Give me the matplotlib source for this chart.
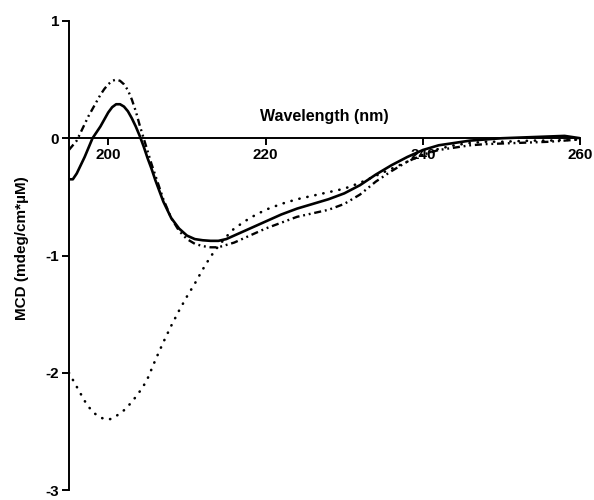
import matplotlib.pyplot as plt

# MCD spectra
wavelength = [195, 195.5, 196, 196.5, 197, 197.5, 198, 198.5, 199, 199.5, 200, 200.5,
              201, 201.5, 202, 202.5, 203, 203.5, 204, 204.5, 205, 205.5, 206,
              207, 208, 209, 210, 211, 212, 213, 214, 215, 216, 218, 220, 222, 224,
              226, 228, 230, 232, 234, 236, 238, 240, 242, 244, 246, 248, 250, 252,
              254, 256, 258, 260]

mcd_solid = [-0.35, -0.35, -0.30, -0.23, -0.16, -0.08, 0.00, 0.05, 0.10, 0.16, 0.22,
             0.265, 0.29, 0.29, 0.27, 0.23, 0.17, 0.10, 0.02, -0.07, -0.17, -0.26,
             -0.36, -0.54, -0.68, -0.77, -0.83, -0.86, -0.87, -0.875, -0.875, -0.86,
             -0.83, -0.77, -0.71, -0.65, -0.60, -0.56, -0.52, -0.47, -0.40, -0.31,
             -0.23, -0.16, -0.10, -0.06, -0.04, -0.02, -0.01, 0.0, 0.005, 0.01, 0.015,
             0.02, 0.0]

mcd_dashdot = [-0.10, -0.06, -0.02, 0.05, 0.12, 0.19, 0.25, 0.31, 0.37, 0.42, 0.46,
               0.49, 0.50, 0.49, 0.46, 0.41, 0.33, 0.23, 0.11, 0.00, -0.11, -0.22,
               -0.32, -0.52, -0.68, -0.79, -0.86, -0.90, -0.92, -0.93, -0.93, -0.91,
               -0.89, -0.83, -0.77, -0.72, -0.67, -0.64, -0.61, -0.56, -0.48, -0.37,
               -0.28, -0.20, -0.14, -0.10, -0.08, -0.06, -0.05, -0.045, -0.04, -0.035,
               -0.03, -0.02, -0.01]

mcd_dotted = [-2.00, -2.06, -2.12, -2.18, -2.24, -2.29, -2.33, -2.36, -2.38, -2.395,
              -2.40, -2.39, -2.37, -2.345, -2.32, -2.285, -2.25, -2.205, -2.16, -2.11,
              -2.05, -1.97, -1.89, -1.74, -1.60, -1.47, -1.35, -1.24, -1.12, -1.01,
              -0.92, -0.84, -0.77, -0.68, -0.61, -0.56, -0.52, -0.49, -0.46, -0.43,
              -0.38, -0.32, -0.26, -0.20, -0.14, -0.09, -0.06, -0.04, -0.03, -0.03,
              -0.025, -0.02, -0.02, -0.015, -0.01]

plt.rcParams['font.family'] = 'Liberation Sans'
plt.rcParams['font.weight'] = 'bold'
plt.rcParams['axes.unicode_minus'] = False

fig = plt.figure(figsize=(5.94, 5.00), dpi=100)
ax = fig.add_axes([0.116, 0.02, 0.861, 0.938])

ax.plot(wavelength, mcd_solid, color='black', linewidth=1.9)
ax.plot(wavelength, mcd_dashdot, color='black', linewidth=1.7,
        linestyle=(0, (3, 1.6, 0.8, 1.6, 0.8, 1.6)))
ax.plot(wavelength, mcd_dotted, color='black', linewidth=1.9,
        linestyle=(0, (0.1, 3.0)), dash_capstyle='round')

ax.set_xlim(195, 260)
ax.set_ylim(-3, 1)
ax.set_xticks([200, 220, 240, 260])
ax.set_yticks([-3, -2, -1, 0, 1])

# x axis runs through y = 0, top/right frame removed
ax.spines['bottom'].set_position(('data', 0))
ax.spines['top'].set_visible(False)
ax.spines['right'].set_visible(False)
for side in ['left', 'bottom']:
    ax.spines[side].set_linewidth(1.4)

ax.tick_params(axis='both', direction='out', length=5, width=1.4,
               labelsize=11, pad=2)
for lab in ax.get_xticklabels() + ax.get_yticklabels():
    lab.set_fontweight('bold')

ax.set_xlabel('Wavelength (nm)', fontsize=11.5, fontweight='bold')
ax.xaxis.set_label_coords(0.5, 0.797)
ax.xaxis.label.set_va('center')

ax.set_ylabel('MCD (mdeg/cm*µM)', fontsize=11, fontweight='bold')
ax.yaxis.set_label_coords(-0.091, 0.516)
ax.yaxis.label.set_va('center')

fig.savefig('out.png', dpi=100)
